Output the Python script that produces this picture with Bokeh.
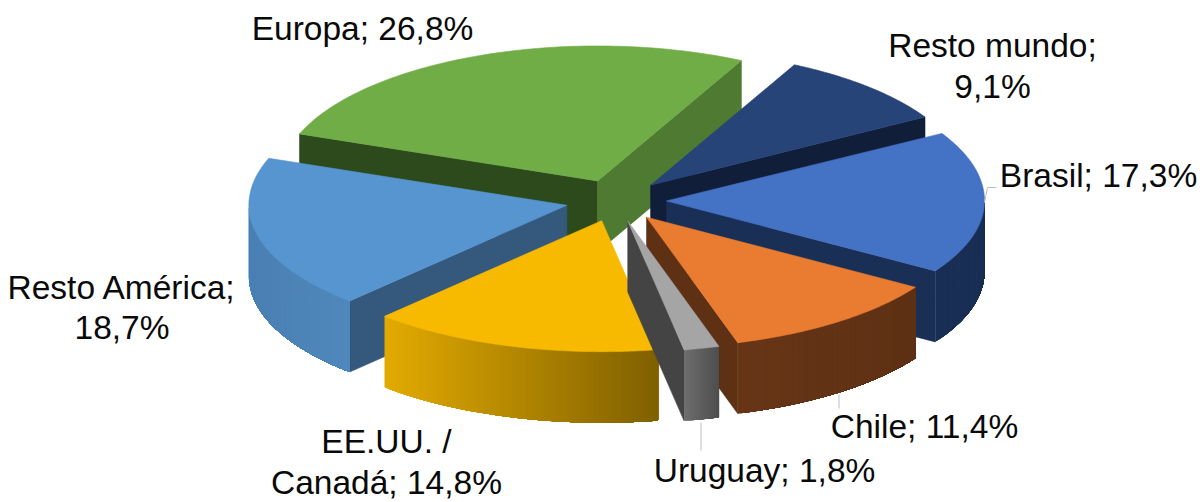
import numpy as np
from bokeh.plotting import figure
from bokeh.models import Range1d, ColumnDataSource
from bokeh.core.properties import value
from bokeh.embed import file_html
from bokeh.resources import INLINE

categories = ["Brasil", "Chile", "Uruguay", "EE.UU. / Canadá", "Resto América", "Europa", "Resto mundo"]
shares = [17.3, 11.4, 1.8, 14.8, 18.7, 26.8, 9.1]
top_colors = ["#4472C4", "#E97C30", "#A5A5A5", "#F7BA00", "#5795D0", "#70AD47", "#264478"]
wall_left = ["#1A2F55", "#683517", "#6E6E6E", "#E3AB00", "#4A80B4", "#2D4A1C", "#111E3A"]
wall_right = ["#1A2F55", "#5E3114", "#4E4E4E", "#806000", "#5088BC", "#2D4A1C", "#111E3A"]
cut_start = ["#1A2F55", "#5E3114", "#444444", "#806000", "#34597D", "#2D4A1C", "#111E3A"]
cut_end = ["#1A2F55", "#5E3114", "#444444", "#806000", "#34597D", "#4F7A32", "#111E3A"]
paint_order = ["Europa", "Resto mundo", "Brasil", "Resto América", "EE.UU. / Canadá", "Chile", "Uruguay"]

label_lines = [["Brasil; 17,3%"], ["Chile; 11,4%"], ["Uruguay; 1,8%"], ["EE.UU. /", "Canadá; 14,8%"],
               ["Resto América;", "18,7%"], ["Europa; 26,8%"], ["Resto mundo;", "9,1%"]]
label_x = [[1098], [924], [764], [386, 386], [121.5, 121.5], [362], [992, 992]]
label_y = [[175], [426], [470], [441, 482], [287, 327], [28], [45, 86]]

CX, CY, RX, RY_UP, RY_DOWN = 615.5, 200.0, 318.0, 135.0, 131.0
EX, EY = 50.5, 21.0
DEPTH = 71.0
START = 30.0


def hex2rgb(h):
    return np.array([int(h[i:i + 2], 16) for i in (1, 3, 5)], dtype=float)


def mix(a, b, f):
    c = hex2rgb(a) * (1 - f) + hex2rgb(b) * f
    return "#%02x%02x%02x" % tuple(int(round(v)) for v in c)


xs, ys, fills, line_alphas = [], [], [], []


def add(px, py, color, la=1.0):
    xs.append(list(px))
    ys.append(list(py))
    fills.append(color)
    line_alphas.append(la)


angles = START - np.cumsum([0] + shares) * 3.6
for name in paint_order:
    i = categories.index(name)
    a0, a1 = angles[i], angles[i + 1]
    mid = np.radians((a0 + a1) / 2)
    ax = CX + EX * np.cos(mid)
    ay = CY - EY * np.sin(mid)

    def pt(deg):
        r = np.radians(deg)
        s = np.sin(r)
        return ax + RX * np.cos(r), ay - (RY_UP if s > 0 else RY_DOWN) * s

    # radial cut faces facing the viewer
    if np.sin(np.radians(a0 + 90)) < 0:
        x, y = pt(a0)
        add([ax, x, x, ax], [ay, y, y + DEPTH, ay + DEPTH], cut_start[i])
    if np.sin(np.radians(a1 - 90)) < 0:
        x, y = pt(a1)
        add([ax, x, x, ax], [ay, y, y + DEPTH, ay + DEPTH], cut_end[i])

    # curved outer wall (front half only): overlapping strips painted left to
    # right, each one reaching to the wall's end, so that no seam shows
    lo, hi = max(a1, -180.0), min(a0, 0.0)
    if hi > lo:
        n = max(int((hi - lo) / 0.3), 1)
        t = np.linspace(lo, hi, n + 1)
        tx = np.array([pt(v)[0] for v in t])
        ty = np.array([pt(v)[1] for v in t])
        x_min, x_max = tx.min(), tx.max()
        for k in range(0, n, 1):
            f = ((tx[k] + tx[k + 1]) / 2 - x_min) / max(x_max - x_min, 1)
            tail = np.unique(np.r_[k, k + 1, np.arange(k, n + 1, 6), n])
            add(list(tx[tail]) + list(tx[tail][::-1]),
                list(ty[tail]) + list((ty[tail] + DEPTH)[::-1]),
                mix(wall_left[i], wall_right[i], f), 0.0)

    # top face
    t = np.linspace(a0, a1, 90)
    add([ax] + [pt(v)[0] for v in t], [ay] + [pt(v)[1] for v in t], top_colors[i])

p = figure(width=1203, height=502, output_backend="svg", toolbar_location=None, tools="",
           x_range=Range1d(0, 1203), y_range=Range1d(502, 0),
           x_axis_type=None, y_axis_type=None, min_border=0,
           outline_line_color=None, background_fill_color="white", border_fill_color="white")
p.grid.visible = False

p.patches("x", "y", source=ColumnDataSource(dict(x=xs, y=ys, c=fills, la=line_alphas)),
          fill_color="c", line_color="c", line_alpha="la", line_width=0.6)

# leader lines
p.multi_line([[984, 987, 996], [700.5, 700.5], [838.5, 838.5]],
             [[202, 187, 187], [422, 450], [394, 408]],
             line_color="#BFBFBF", line_width=1)

tx, ty, tt = [], [], []
for xl, yl, ll in zip(label_x, label_y, label_lines):
    tx += xl
    ty += yl
    tt += ll
p.text(tx, ty, text=tt, text_font=value("Liberation Sans"), text_font_size="33.5px",
       text_color="#0A0A0A", text_align="center", text_baseline="middle")

open("out.html", "w").write(file_html(p, INLINE))
